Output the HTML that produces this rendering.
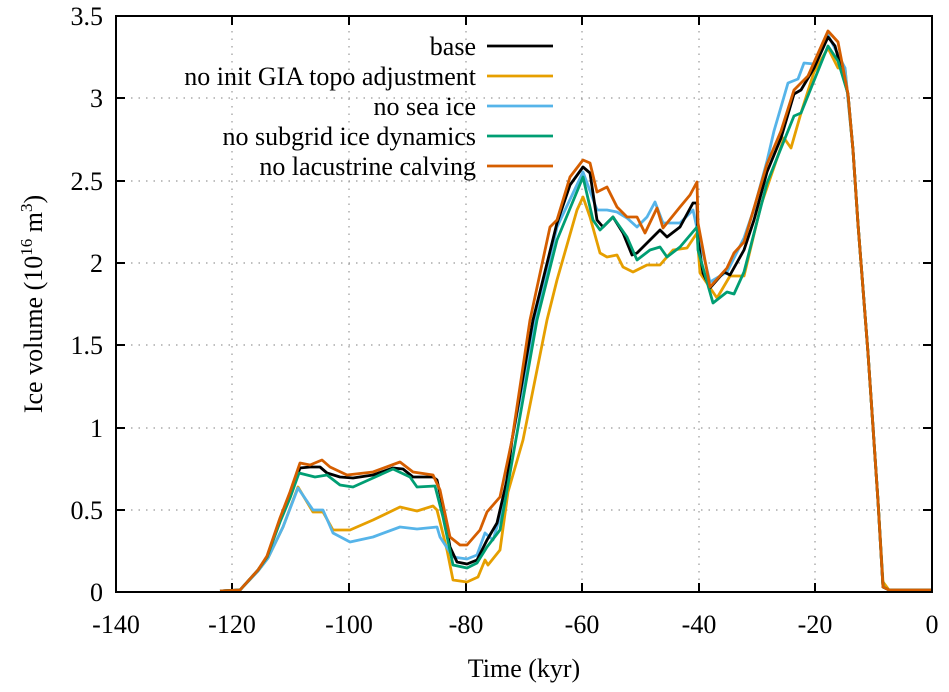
<!DOCTYPE html><html><head><style>body{margin:0;background:#fff}svg{display:block}text{font-family:"Liberation Serif",serif;font-size:26px}</style></head><body>
<svg width="949" height="692" viewBox="0 0 949 692">
<g stroke="#999" stroke-width="1.2" stroke-dasharray="1.5,6">
<line x1="116" y1="510" x2="932" y2="510"/><line x1="116" y1="428" x2="932" y2="428"/><line x1="116" y1="345" x2="932" y2="345"/><line x1="116" y1="263" x2="932" y2="263"/><line x1="116" y1="181" x2="932" y2="181"/><line x1="116" y1="98" x2="932" y2="98"/>
<line x1="232" y1="16" x2="232" y2="592"/><line x1="349" y1="16" x2="349" y2="592"/><line x1="466" y1="16" x2="466" y2="592"/><line x1="582" y1="16" x2="582" y2="592"/><line x1="699" y1="16" x2="699" y2="592"/><line x1="815" y1="16" x2="815" y2="592"/>
</g>
<g stroke="#000" stroke-width="2">
<path d="M116,510h9M116,428h9M116,345h9M116,263h9M116,181h9M116,98h9M932,510h-9M932,428h-9M932,345h-9M932,263h-9M932,181h-9M932,98h-9M232,592v-9M349,592v-9M466,592v-9M582,592v-9M699,592v-9M815,592v-9M232,16v9M349,16v9M466,16v9M582,16v9M699,16v9M815,16v9"/>
</g>
<g fill="none" stroke-width="2.8" stroke-linejoin="round">
<path stroke="#e69f00" d="M220,591 240,590 258,571 268,558 283,527 298,487 313,512 323,512 333,530 350,530 373,520 400,507 417,511 433,506 437,510 447,550 453,580 467,582 478,577 485,560 488,565 500,550 508,492 523,440 547,320 557,280 577,210 583,197 590,217 600,253 607,257 617,255 623,267 633,272 647,265 660,265 673,250 687,248 697,233 700,273 717,298 730,276 744,276 761,205 784,138 791,148 801,113 814,72 828,48 838,68 845,68 853,150 858,224 868,353 878,501 883,582 889,590 932,590"/>
<path stroke="#56b4e9" d="M220,591 240,590 258,571 268,558 283,527 298,488 313,510 323,510 333,533 350,542 373,537 400,527 417,529 437,527 440,537 453,557 467,559 477,555 485,533 493,540 503,507 510,450 537,313 557,227 583,172 597,210 607,210 617,212 627,218 637,227 647,217 655,202 663,223 680,223 693,210 698,233 710,282 727,272 744,238 754,209 767,161 774,131 788,83 798,79 804,63 814,64 828,35 845,68 853,150 858,224 868,353 878,501 883,587 889,590 932,590"/>
<path stroke="#000" d="M220,591 240,590 258,570 267,557 280,520 290,495 300,468 310,467 320,467 327,473 340,477 353,478 373,475 393,468 403,469 413,477 433,477 437,480 443,507 450,547 457,562 467,564 477,560 487,540 497,523 507,480 512,440 533,320 557,223 570,185 583,167 590,173 597,220 603,227 613,217 623,233 632,255 637,253 647,243 660,230 667,237 680,227 693,203 697,203 698,240 703,273 710,288 724,272 730,275 744,250 754,220 767,172 781,138 794,94 801,90 814,68 828,37 835,46 841,68 848,94 853,150 858,224 868,353 878,501 883,587 889,590 932,590"/>
<path stroke="#009e73" d="M220,591 240,590 258,570 267,557 280,522 290,498 299,473 315,477 327,475 340,485 353,487 373,478 393,469 410,477 417,487 435,486 443,517 453,565 467,568 477,563 487,547 500,530 510,473 537,320 557,240 583,177 593,220 600,230 613,217 627,237 637,260 650,250 660,247 667,257 680,247 697,227 698,250 713,303 727,292 734,294 744,272 767,183 794,116 801,113 828,46 838,61 848,94 853,150 858,224 868,353 878,501 883,587 889,590 932,590"/>
<path stroke="#d55e00" d="M220,591 240,590 258,570 267,556 280,518 290,492 300,463 310,465 322,460 330,467 347,475 373,472 400,462 413,472 433,475 440,490 450,537 460,545 467,545 480,530 487,512 500,497 512,440 530,320 550,227 557,220 570,177 583,160 590,163 597,192 607,187 617,207 627,217 637,217 645,233 657,208 663,228 680,207 690,195 697,182 698,223 710,287 727,268 734,253 744,242 767,164 781,131 794,90 808,76 828,31 838,42 848,94 853,150 858,224 868,353 878,501 883,587 889,590 932,590"/>
</g>
<rect x="116" y="16" width="816" height="576" fill="none" stroke="#000" stroke-width="2"/>
<g text-anchor="end">
<text x="476" y="55">base</text><text x="476" y="85">no init GIA topo adjustment</text><text x="476" y="115">no sea ice</text><text x="476" y="145">no subgrid ice dynamics</text><text x="476" y="175">no lacustrine calving</text>
<text x="103" y="601">0</text><text x="103" y="519">0.5</text><text x="103" y="437">1</text><text x="103" y="354">1.5</text><text x="103" y="272">2</text><text x="103" y="190">2.5</text><text x="103" y="107">3</text><text x="103" y="25">3.5</text>
</g>
<g stroke-width="2.8"><line x1="487" y1="46" x2="553" y2="46" stroke="#000"/><line x1="487" y1="76" x2="553" y2="76" stroke="#e69f00"/><line x1="487" y1="106" x2="553" y2="106" stroke="#56b4e9"/><line x1="487" y1="136" x2="553" y2="136" stroke="#009e73"/><line x1="487" y1="166" x2="553" y2="166" stroke="#d55e00"/></g>
<g text-anchor="middle">
<text x="116" y="633">-140</text><text x="232" y="633">-120</text><text x="349" y="633">-100</text><text x="466" y="633">-80</text><text x="582" y="633">-60</text><text x="699" y="633">-40</text><text x="815" y="633">-20</text><text x="932" y="633">0</text>
<text x="524" y="677">Time (kyr)</text>
<text transform="translate(42,304) rotate(-90)">Ice volume (10<tspan font-size="17" dy="-10">16</tspan><tspan dy="10"> m</tspan><tspan font-size="17" dy="-10">3</tspan><tspan dy="10">)</tspan></text>
</g>
</svg></body></html>
